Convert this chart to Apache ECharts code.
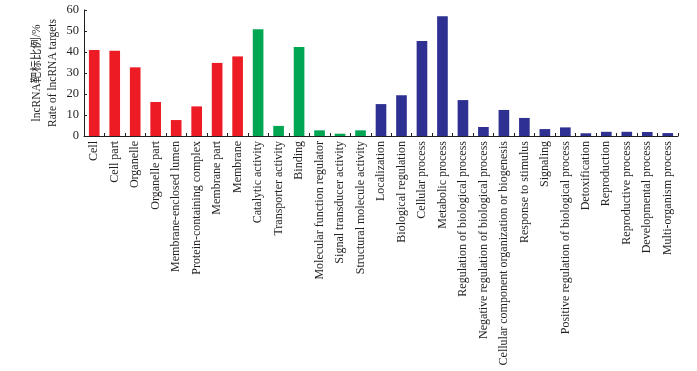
<!DOCTYPE html>
<html>
<head>
<meta charset="utf-8">
<script src="https://cdn.jsdelivr.net/npm/echarts@6/dist/echarts.min.js"></script>
<style>
  html, body { margin: 0; padding: 0; background: #fff; }
  #chart { width: 697px; height: 371px; }
</style>
</head>
<body>
<div id="chart"></div>
<script>
// GO terms, grouped: cellular component (red), molecular function (green), biological process (blue)
const componentTerms = ['Cell', 'Cell part', 'Organelle', 'Organelle part', 'Membrane-enclosed lumen',
  'Protein-containing complex', 'Membrane part', 'Membrane']
const componentRates = [41, 40.6, 32.7, 16.2, 7.6, 14.1, 34.8, 37.9]

const functionTerms = ['Catalytic activity', 'Transporter activity', 'Binding', 'Molecular function regulator',
  'Signal transducer activity', 'Structural molecule activity']
const functionRates = [50.8, 4.8, 42.4, 2.7, 1.1, 2.7]

const processTerms = ['Localization', 'Biological regulation', 'Cellular process', 'Metabolic process',
  'Regulation of biological process', 'Negative regulation of biological process',
  'Cellular component organization or biogenesis', 'Response to stimulus', 'Signaling',
  'Positive regulation of biological process', 'Detoxification', 'Reproduction',
  'Reproductive process', 'Developmental process', 'Multi-organism process']
const processRates = [15.2, 19.4, 45.2, 57, 17.1, 4.3, 12.4, 8.6, 3.3, 4.1, 1.3, 2.0, 2.0, 1.9, 1.4]

const yTicks = [0, 10, 20, 30, 40, 50, 60]

const groupColors = ['#ed1c24', '#00a651', '#2e3192']

const categories = [...componentTerms, ...functionTerms, ...processTerms]
const barData = [
  ...componentRates.map(v => ({ value: v, itemStyle: { color: groupColors[0] } })),
  ...functionRates.map(v => ({ value: v, itemStyle: { color: groupColors[1] } })),
  ...processRates.map(v => ({ value: v, itemStyle: { color: groupColors[2] } }))
]

const serif = '"Liberation Serif", "DejaVu Serif", "Noto Sans CJK SC", serif'

const chart = echarts.init(document.getElementById('chart'))

chart.setOption({
  animation: false,
  grid: {
    left: 84,
    right: 19,
    top: 10,
    bottom: 235
  },
  xAxis: {
    type: 'category',
    data: categories,
    axisLine: { lineStyle: { color: '#231f20', width: 1 } },
    axisTick: { show: true, inside: true, length: 3, lineStyle: { color: '#231f20' } },
    axisLabel: {
      interval: 0,
      rotate: 90,
      color: '#231f20',
      fontSize: 12,
      fontFamily: serif,
      margin: 5
    }
  },
  yAxis: {
    type: 'value',
    min: yTicks[0],
    max: yTicks[yTicks.length - 1],
    interval: 10,
    name: 'lncRNA靶标比例/%\nRate of lncRNA targets',
    nameLocation: 'middle',
    nameRotate: 90,
    nameGap: 23,
    nameMoveOverlap: false,
    nameTextStyle: {
      color: '#231f20',
      fontSize: 11.5,
      fontFamily: serif,
      lineHeight: 16
    },
    axisLine: { show: true, lineStyle: { color: '#231f20', width: 1 } },
    axisTick: { show: true, inside: true, length: 3, lineStyle: { color: '#231f20' } },
    axisLabel: {
      color: '#231f20',
      fontSize: 12.5,
      fontFamily: serif,
      margin: 5
    },
    splitLine: { show: false }
  },
  series: [{
    type: 'bar',
    data: barData,
    barWidth: '52%'
  }]
})
</script>
</body>
</html>
